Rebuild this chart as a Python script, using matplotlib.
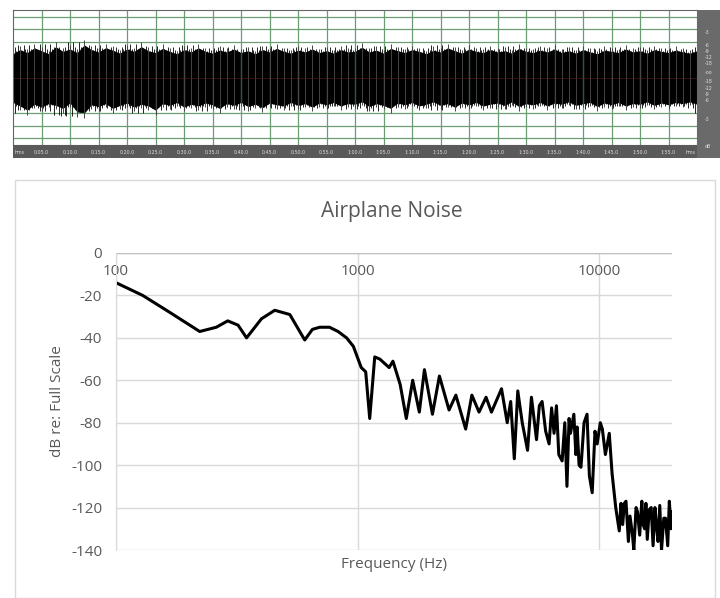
import matplotlib
matplotlib.use('Agg')
import matplotlib.pyplot as plt
from matplotlib.patches import Rectangle
import numpy as np

plt.rcParams['axes.unicode_minus'] = False
plt.rcParams['font.family'] = ['Open Sans', 'DejaVu Sans']

# spectrum (Hz, dB re full scale)
freq = [100, 129, 167, 222, 260, 290, 320, 347, 400, 454, 524, 604, 650, 697, 765, 830, 900,
        960, 1035, 1080, 1122, 1177, 1235, 1350, 1400, 1500, 1590, 1690, 1800, 1890, 2040,
        2180, 2390, 2550, 2800, 2970, 3180, 3400, 3580, 3940, 4160, 4300, 4450, 4600, 4800,
        5050, 5240, 5500, 5650, 5800, 6000, 6200, 6350, 6500, 6650, 6800, 7020, 7200, 7350,
        7500, 7600, 7850, 8000, 8100, 8250, 8400, 8650, 8900, 9100, 9350, 9600, 9800, 10100,
        10300, 10600, 11000, 11300, 11700, 12100, 12300, 12500, 12700, 12900, 13200, 13400,
        13700, 13900, 14200, 14400, 14700, 15000, 15200, 15400, 15600, 15800, 16100, 16400,
        16700, 17000, 17300, 17500, 17800, 18100, 18500, 18800, 19200, 19500, 19800, 20000]
level = [-14, -20, -28, -37, -35, -32, -34, -40, -31, -27, -29, -41, -36, -35, -35, -37, -40,
         -44, -54, -56, -78, -49, -50, -54, -51, -62, -78, -60, -75, -55, -76,
         -58, -74, -67, -83, -67, -75, -68, -75, -64, -80, -70, -97, -65, -80,
         -93, -68, -88, -72, -70, -84, -90, -73, -85, -72, -95, -98, -80, -110,
         -78, -85, -76, -95, -82, -100, -101, -80, -76, -105, -113, -84, -90, -80,
         -83, -95, -85, -104, -120, -131, -118, -128, -118, -117, -136, -124,
         -132, -140, -120, -122, -133, -117, -128, -130, -118, -135, -121, -120,
         -138, -120, -130, -136, -119, -140, -125, -125, -138, -117, -130, -122]

# waveform envelope (fraction of full scale) at 1.25 s steps
wave_top = [0.40, 0.47, 0.42, 0.50, 0.45, 0.40, 0.52, 0.44, 0.48, 0.42, 0.55, 0.47, 0.43, 0.50,
            0.46, 0.41, 0.48, 0.44, 0.52, 0.45, 0.42, 0.49, 0.44, 0.40, 0.47, 0.43, 0.50, 0.44,
            0.41, 0.46, 0.43, 0.48, 0.42, 0.45, 0.40, 0.47, 0.43, 0.49, 0.44, 0.41, 0.46, 0.43,
            0.48, 0.42, 0.45, 0.41, 0.47, 0.43, 0.44, 0.51, 0.43, 0.46, 0.41, 0.49, 0.45, 0.42,
            0.47, 0.44, 0.40, 0.46, 0.43, 0.50, 0.45, 0.41, 0.48, 0.44, 0.42, 0.47, 0.43, 0.45,
            0.41, 0.49, 0.44, 0.42, 0.46, 0.43, 0.48, 0.42, 0.45, 0.41, 0.47, 0.43, 0.40, 0.46,
            0.44, 0.42, 0.48, 0.43, 0.45, 0.41, 0.47, 0.44, 0.42, 0.46, 0.43, 0.41, 0.45]
wave_bot = [-0.42, -0.48, -0.55, -0.45, -0.50, -0.44, -0.47, -0.52, -0.43, -0.58, -0.60, -0.46,
            -0.49, -0.44, -0.52, -0.47, -0.43, -0.50, -0.45, -0.48, -0.55, -0.44, -0.47, -0.42,
            -0.50, -0.45, -0.48, -0.43, -0.46, -0.52, -0.44, -0.47, -0.42, -0.49, -0.45, -0.51,
            -0.43, -0.46, -0.48, -0.42, -0.47, -0.44, -0.50, -0.43, -0.46, -0.42, -0.48, -0.44,
            -0.45, -0.41, -0.49, -0.44, -0.47, -0.52, -0.43, -0.46, -0.42, -0.48, -0.45, -0.41,
            -0.47, -0.44, -0.50, -0.43, -0.46, -0.42, -0.48, -0.45, -0.43, -0.47, -0.41, -0.49,
            -0.44, -0.46, -0.42, -0.48, -0.43, -0.45, -0.41, -0.47, -0.44, -0.42, -0.49, -0.43,
            -0.46, -0.42, -0.48, -0.44, -0.45, -0.41, -0.47, -0.43, -0.46, -0.42, -0.44, -0.41,
            -0.45]
time_labels = ['hms', '0:05.0', '0:10.0', '0:15.0', '0:20.0', '0:25.0', '0:30.0', '0:35.0',
               '0:40.0', '0:45.0', '0:50.0', '0:55.0', '1:00.0', '1:05.0', '1:10.0', '1:15.0',
               '1:20.0', '1:25.0', '1:30.0', '1:35.0', '1:40.0', '1:45.0', '1:50.0', '1:55.0', 'hms']
db_labels = ['-3', '-6', '-9', '-12', '-18', '-oo', '-18', '-12', '-9', '-6', '-3', 'dB']

fig = plt.figure(figsize=(7.2, 5.98), dpi=100)
W, H = 720.0, 598.0

def box(x0, y0, x1, y1):
    return [x0 / W, 1 - y1 / H, (x1 - x0) / W, (y1 - y0) / H]

# ---- waveform panel
ax_w = fig.add_axes(box(13, 10, 697, 145))
ax_w.set_xlim(0, 120)
ax_w.set_ylim(-1, 1)
for t in np.arange(5, 120, 5):
    ax_w.axvline(t, color='#6a9e72', lw=0.9)
for yy in [-0.72, -0.52, 0.52, 0.72, 0.9, -0.9]:
    ax_w.axhline(yy, color='#6a9e72', lw=0.9)
n = len(wave_top)
tt = np.arange(n) * 1.25
ax_w.fill_between(tt, [v * 0.88 for v in wave_top], [v * 0.88 for v in wave_bot],
                  color='black', lw=0)
ax_w.vlines(tt, 0, wave_top, color='#444444', lw=0.7)
ax_w.vlines(tt, wave_bot, 0, color='#444444', lw=0.7)
for k, sh in enumerate([0.3, 0.6, 0.9]):
    tp = wave_top[k + 1:] + wave_top[:k + 1]
    bt = wave_bot[k + 2:] + wave_bot[:k + 2]
    ax_w.vlines(tt + sh, 0, [v * 0.95 for v in tp], color='black', lw=0.6)
    ax_w.vlines(tt + sh, [v * 0.95 for v in bt], 0, color='black', lw=0.6)
ax_w.axhline(0, color='#602020', lw=0.4)
ax_w.set_xticks([])
ax_w.set_yticks([])
for s in ax_w.spines.values():
    s.set_color('#666666')

ax_r = fig.add_axes(box(13, 145, 697, 158))
ax_r.set_facecolor('#5a5a5a')
ax_r.set_xlim(0, 120)
ax_r.set_xticks([]); ax_r.set_yticks([])
for i, lab in enumerate(time_labels):
    ax_r.text(i * 5 + (1.2 if i == 0 else (-1.2 if i == 24 else 0)), 0.45, lab,
              color='#dddddd', fontsize=3.4, ha='center', va='center', family='DejaVu Sans')
for s in ax_r.spines.values():
    s.set_visible(False)

ax_d = fig.add_axes(box(697, 10, 720, 158))
ax_d.set_facecolor('#6a6a6a')
ax_d.set_xlim(0, 1); ax_d.set_ylim(0, 1)
ax_d.set_xticks([]); ax_d.set_yticks([])
for s in ax_d.spines.values():
    s.set_visible(False)
for lab, yp in zip(db_labels, [0.85, 0.76, 0.72, 0.68, 0.64, 0.58, 0.52, 0.47, 0.43, 0.39, 0.26, 0.08]):
    ax_d.text(0.35, yp, lab, color='#dddddd', fontsize=3.4, va='center', family='DejaVu Sans')

# ---- spectrum chart
fig.patches.append(Rectangle((15 / W, 0), 700 / W, 1 - 180 / H, transform=fig.transFigure,
                             fill=False, edgecolor='#d9d9d9', lw=1))
ax = fig.add_axes(box(116, 253, 672, 550))
ax.semilogx(freq, level, color='black', lw=2.2, solid_joinstyle='round')
ax.set_xlim(100, 20000)
ax.set_ylim(-140, 0)
ax.set_yticks(range(-140, 1, 20))
ax.set_xticks([100, 1000, 10000])
ax.set_xticks([], minor=True)
ax.set_xticklabels(['100', '1000', '10000'])
ax.xaxis.tick_top()
ax.tick_params(axis='x', direction='in', length=0, pad=-19, labelsize=11, labelcolor='#595959')
ax.tick_params(axis='y', length=0, labelsize=11, labelcolor='#595959', pad=10)
ax.grid(True, color='#d9d9d9', lw=1)
ax.set_axisbelow(True)
for k in ['top', 'right', 'bottom']:
    ax.spines[k].set_visible(False)
ax.spines['left'].set_color('#d9d9d9')
ax.axhline(0, color='#bfbfbf', lw=1)
ax.set_xlabel('Frequency (Hz)', color='#595959', fontsize=11, labelpad=5)
ax.set_ylabel('dB re: Full Scale', color='#595959', fontsize=11, labelpad=4)
fig.text(392 / W, 1 - 212 / H, 'Airplane Noise', ha='center', va='center', fontsize=15,
         color='#595959')

fig.savefig('out.png', dpi=100)
